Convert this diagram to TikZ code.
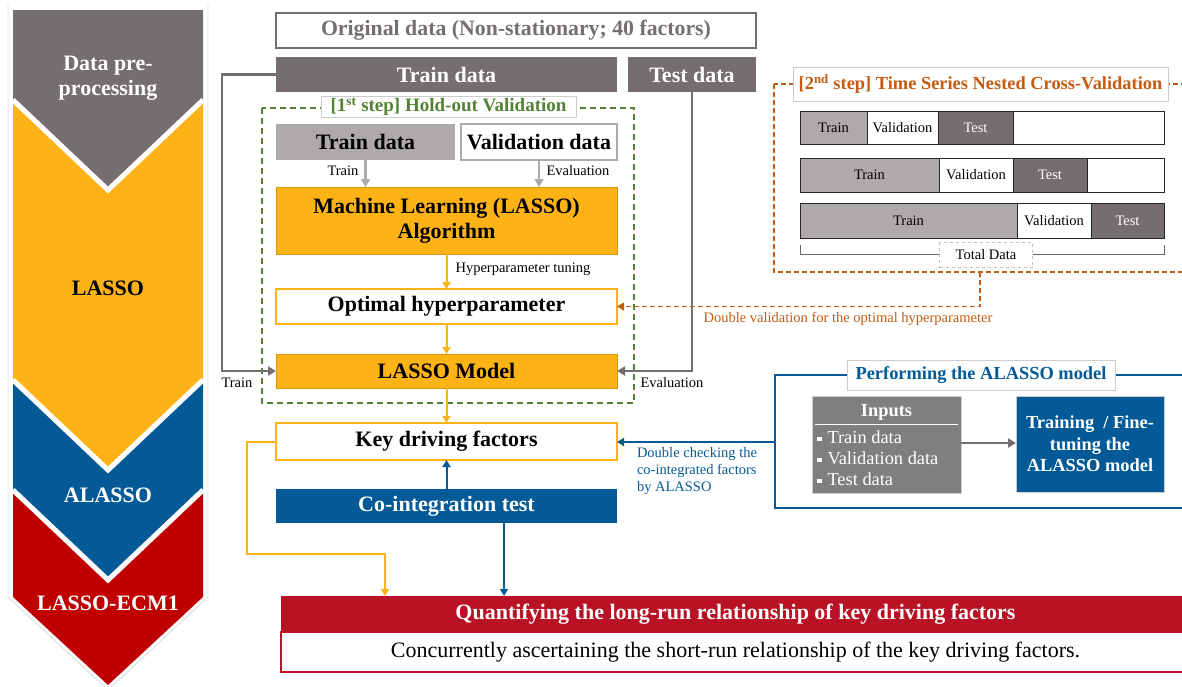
\documentclass[tikz,border=0pt]{standalone}
\usepackage{fontspec}
\setmainfont{Liberation Serif}
\usetikzlibrary{arrows.meta}
\definecolor{dgray}{RGB}{116,111,110}
\definecolor{lgray}{RGB}{173,170,169}
\definecolor{mgray}{RGB}{127,127,127}
\definecolor{lassoyel}{RGB}{253,178,22}
\definecolor{alblue}{RGB}{4,90,150}
\definecolor{ecmred}{RGB}{192,0,0}
\definecolor{banred}{RGB}{184,18,36}
\definecolor{stepgreen}{RGB}{84,130,53}
\definecolor{steporange}{RGB}{197,90,17}
\newcommand{\fsz}[2]{\fontsize{#1}{#2}\selectfont}
\newcommand{\sqbul}{\rule[0.25ex]{4.5pt}{4.5pt}\hspace{6pt}}
\tikzset{
  bar/.style={minimum width=341, minimum height=#1, align=center,
    font=\bfseries\fsz{22}{25}},
  small/.style={font=\fsz{14.5}{17}},
  cell/.style={draw=black!85, line width=0.8pt, anchor=west, minimum height=#1,
    font=\fsz{14.5}{16}},
  tagbox/.style={fill=white, draw=black!20, line width=0.6pt,
    font=\bfseries\fsz{18.4}{21}},
  grayarr/.style={draw=dgray, line width=2.4pt, -{Triangle[length=8pt,width=9pt]}},
  lgrayarr/.style={draw=lgray, line width=2.4pt, -{Triangle[length=8pt,width=9pt]}},
  yelarr/.style={draw=lassoyel, line width=2pt, -{Triangle[length=7pt,width=8pt]}},
  bluarr/.style={draw=alblue, line width=2pt, -{Triangle[length=7pt,width=8pt]}},
  stage/.style={font=\bfseries\fsz{22}{25}, align=center}
}
\begin{document}
\begin{tikzpicture}[x=1pt,y=-1pt, every node/.style={inner sep=0pt, outer sep=0pt}]
\useasboundingbox (0,0) rectangle (1182,686);

% left stages
\draw[black!15, line width=0.8pt] (8,5) -- (8,597) -- (108,690) -- (208,597) -- (208,5);
\fill[ecmred] (13,490) -- (203,490) -- (203,597) -- (108,685) -- (13,597) -- cycle;
\fill[alblue] (13,380) -- (203,380) -- (203,490) -- (108,580) -- (13,490) -- cycle;
\draw[white, line width=5pt] (13,490) -- (108,580) -- (203,490);
\fill[lassoyel] (13,100) -- (203,100) -- (203,380) -- (108,470) -- (13,380) -- cycle;
\draw[white, line width=5pt] (13,380) -- (108,470) -- (203,380);
\fill[dgray] (13,10) -- (203,10) -- (203,100) -- (108,190) -- (13,100) -- cycle;
\draw[white, line width=5pt] (13,100) -- (108,190) -- (203,100);
\node[stage, text=white] (prep) at (108,78) {Data pre-\\processing};
\node[stage] (slasso) at (108,288) {LASSO};
\node[stage, text=white] (salasso) at (108,495) {ALASSO};
\node[stage, text=white] (secm) at (108,603) {LASSO-ECM1};

% data split
\node[draw=dgray, line width=1.6pt, minimum width=480, minimum height=35,
  font=\bfseries\fsz{21.8}{25}, text=dgray] (orig) at (516,30.5)
  {Original data (Non-stationary; 40 factors)};
\node[bar=35, fill=dgray, text=white] (traindata) at (446.5,74.5) {Train data};
\node[fill=dgray, text=white, minimum width=128, minimum height=35,
  font=\bfseries\fsz{22}{25}] (testdata) at (692,74.5) {Test data};

% 1st step
\draw[stepgreen, line width=1.5pt, dash pattern=on 6pt off 4pt] (262,108) rectangle (634,403);
\node[tagbox, text=stepgreen, minimum width=255, minimum height=21, font=\bfseries\fsz{19}{21}]
  (hold) at (448.5,106.5) {[1\textsuperscript{st} step] Hold-out Validation};
\node[fill=lgray, minimum width=179, minimum height=36, font=\bfseries\fsz{22}{25}]
  (trn) at (365.5,142) {Train data};
\node[draw=lgray, line width=1.5pt, minimum width=156, minimum height=36,
  font=\bfseries\fsz{22}{25}] (val) at (539,142) {Validation data};
\node[bar=67, fill=lassoyel, draw=lassoyel!85!black, line width=0.5pt] (ml) at (446.5,220.5)
  {Machine Learning (LASSO)\\Algorithm};
\node[bar=35, fill=white, draw=lassoyel, line width=1.5pt] (opt) at (446.5,306.5)
  {Optimal hyperparameter};
\node[bar=34, fill=lassoyel, draw=lassoyel!85!black, line width=0.5pt] (lmodel) at (446.5,371)
  {LASSO Model};
\node[bar=37, fill=white, draw=lassoyel, line width=1.5pt] (key) at (446.5,441.5)
  {Key driving factors};
\node[bar=34, fill=alblue, text=white] (coint) at (446.5,506) {Co-integration test};

\draw[lgrayarr] (trn.south) -- (trn.south |- ml.north);
\draw[lgrayarr] (val.south) -- (val.south |- ml.north);
\node[small] (trnlbl) at (343,171) {Train};
\node[small] (vallbl) at (578,171) {Evaluation};
\draw[yelarr] (ml) -- (opt);
\node[small] (tunelbl) at (523,269) {Hyperparameter tuning};
\draw[yelarr] (opt) -- (lmodel);
\draw[yelarr] (lmodel) -- (key);
\draw[bluarr] (coint) -- (key);
\draw[grayarr] (traindata.west) -- ++(-54,0) |- (lmodel.west);
\node[small] (trainlbl) at (237,383) {Train};
\draw[grayarr] (testdata.south) |- (lmodel.east);
\node[small] (evallbl) at (672,383) {Evaluation};

% 2nd step
\draw[steporange, line width=1.5pt, dash pattern=on 5pt off 3pt] (774,84) rectangle (1200,272);
\node[tagbox, text=steporange, minimum width=375, minimum height=34] (nested) at (980.5,84)
  {[2\textsuperscript{nd} step] Time Series Nested Cross-Validation};
\node[cell=33, fill=lgray, minimum width=67] (tr1) at (800,127.5) {Train};
\node[cell=33, fill=white, minimum width=71] (va1) at (867,127.5) {Validation};
\node[cell=33, fill=dgray, text=white!92, minimum width=75] (te1) at (938,127.5) {Test};
\node[cell=33, fill=white, minimum width=151] (bl1) at (1013,127.5) {};
\node[cell=34, fill=lgray, minimum width=139] (tr2) at (800,175) {Train};
\node[cell=34, fill=white, minimum width=74] (va2) at (939,175) {Validation};
\node[cell=34, fill=dgray, text=white!92, minimum width=74] (te2) at (1013,175) {Test};
\node[cell=34, fill=white, minimum width=77] (bl2) at (1087,175) {};
\node[cell=35, fill=lgray, minimum width=217] (tr3) at (800,220.5) {Train};
\node[cell=35, fill=white, minimum width=74] (va3) at (1017,220.5) {Validation};
\node[cell=35, fill=dgray, text=white!92, minimum width=73] (te3) at (1091,220.5) {Test};
\draw[black!60, line width=0.8pt] (800,245) -- (800,254) -- (1164,254) -- (1164,245);
\node[fill=white, draw=black!25, dashed, line width=0.6pt, minimum width=93, minimum height=25,
  font=\fsz{14.5}{16}] (total) at (986,255) {Total Data};
\coordinate (cvout) at (980,272);
\draw[steporange, line width=1.5pt, dash pattern=on 5pt off 3pt,
  -{Triangle[length=7pt,width=8pt]}] (cvout) |- (opt.east);
\node[small, text=steporange] (dvlbl) at (848,319) {Double validation for the optimal hyperparameter};

% ALASSO block
\draw[alblue, line width=2.2pt] (775,375) rectangle (1200,508);
\node[tagbox, text=alblue, minimum width=268, minimum height=30] (perf) at (981,375)
  {Performing the ALASSO model};
\node[fill=mgray, draw=black!20, line width=0.6pt, minimum width=149, minimum height=97]
  (inputs) at (886.5,444.5) {};
\node[text=white, font=\bfseries\fsz{18.4}{21}] (inhead) at (886.5,412) {Inputs};
\draw[white, line width=0.8pt] (815,424) -- (958,424);
\node[text=white, font=\fsz{18.4}{21}, anchor=west] (in1) at (817,437) {\sqbul Train data};
\node[text=white, font=\fsz{18.4}{21}, anchor=west] (in2) at (817,458) {\sqbul Validation data};
\node[text=white, font=\fsz{18.4}{21}, anchor=west] (in3) at (817,479) {\sqbul Test data};
\node[fill=alblue, draw=black!20, line width=0.6pt, minimum width=148, minimum height=96,
  text=white, font=\bfseries\fsz{18.4}{21.5}, align=center] (tune) at (1090,444)
  {Training \ / Fine-\\tuning the\\ALASSO model};
\draw[grayarr, line width=2pt] (inputs.east |- 0,443) -- (tune.west |- 0,443);
\coordinate (perfw) at (775,442);
\draw[bluarr] (perfw) -- (key.east |- perfw);
\node[small, text=alblue, align=left, anchor=north west] (dclbl) at (637,447)
  {Double checking the\\co-integrated factors\\by ALASSO};

% result
\node[fill=banred, minimum width=909, minimum height=36, text=white,
  font=\bfseries\fsz{22}{25}] (quant) at (735.5,614)
  {Quantifying the long-run relationship of key driving factors};
\node[fill=white, draw=banred, line width=1.5pt, minimum width=909, minimum height=40,
  font=\fsz{22}{25}] (short) at (735.5,652)
  {Concurrently ascertaining the short-run relationship of the key driving factors.};
\coordinate (cintout) at (504,523);
\draw[bluarr] (cintout) -- (cintout |- quant.north);
\coordinate (quantyel) at (385,596);
\draw[yelarr] (key.west) -| (247,554) -| (quantyel);
\end{tikzpicture}
\end{document}
